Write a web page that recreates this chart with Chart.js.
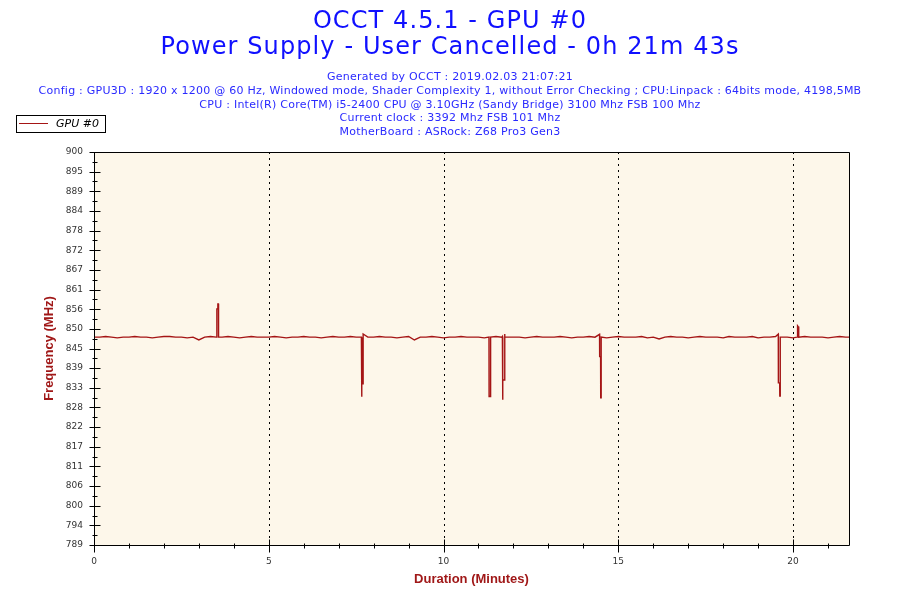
<!DOCTYPE html>
<html>
<head>
<meta charset="utf-8">
<script src="https://cdn.jsdelivr.net/npm/chart.js@4.4.1/dist/chart.umd.min.js"></script>
<style>
  html, body { margin: 0; padding: 0; background: #ffffff; }
  #wrap { position: relative; width: 900px; height: 600px; overflow: hidden; }
  #c { position: absolute; left: 0; top: 0; }
  .t1 { position: absolute; left: 0; width: 900px; text-align: center; font-family: "DejaVu Sans", sans-serif; font-size: 24px; letter-spacing: 1.1px; line-height: 27px; color: #1010ff; white-space: nowrap; }
  #sub { position: absolute; left: 0; top: 70px; width: 900px; text-align: center; font-family: "DejaVu Sans", sans-serif; font-size: 11px; letter-spacing: 0.25px; line-height: 13.8px; color: #2a2aff; white-space: nowrap; }
  #legend { position: absolute; left: 16px; top: 115px; width: 90px; height: 18px; box-sizing: border-box; border: 1px solid #000; background: #fff; }
  #legline { position: absolute; left: 2px; top: 7px; width: 29px; height: 1px; background: #a51515; }
  #legtext { position: absolute; left: 39px; top: 0px; font-family: "DejaVu Sans", sans-serif; font-style: italic; font-size: 11px; line-height: 16px; color: #000; }
</style>
</head>
<body>
<div id="wrap">
  <canvas id="c" width="900" height="600"></canvas>
  <div class="t1" style="top:7px">OCCT 4.5.1 - GPU #0</div>
  <div class="t1" style="top:33px">Power Supply - User Cancelled - 0h 21m 43s</div>
  <div id="sub">Generated by OCCT : 2019.02.03 21:07:21<br>Config : GPU3D : 1920 x 1200 @ 60 Hz, Windowed mode, Shader Complexity 1, without Error Checking ; CPU:Linpack : 64bits mode, 4198,5MB<br>CPU : Intel(R) Core(TM) i5-2400 CPU @ 3.10GHz (Sandy Bridge) 3100 Mhz FSB 100 Mhz<br>Current clock : 3392 Mhz FSB 101 Mhz<br>MotherBoard : ASRock: Z68 Pro3 Gen3</div>
  <div id="legend"><div id="legline"></div><div id="legtext">GPU #0</div></div>
</div>
<script>
// ---- data ----
const seriesName = "GPU #0";
// baseline frequency (MHz), one reading every 10 s starting at 0 s
const baseStepSec = 10;
const baseMHz = [
847.7,847.7,847.9,847.7,847.5,847.7,847.7,847.9,847.7,847.7,
847.5,847.7,847.9,847.9,847.7,847.7,847.5,847.7,846.9,847.7,
847.9,847.7,847.7,847.9,847.7,847.5,847.7,847.9,847.7,847.7,
847.7,847.9,847.7,847.5,847.7,847.7,847.9,847.7,847.7,847.5,
847.7,847.9,847.7,847.7,847.9,847.7,847.5,847.7,847.7,847.9,
847.7,847.7,847.5,847.7,847.9,846.9,847.7,847.7,847.9,847.7,
847.5,847.7,847.7,847.9,847.7,847.7,847.7,847.5,847.7,847.9,
847.7,847.7,847.7,847.7,847.5,847.7,847.9,847.7,847.7,847.7,
847.9,847.7,847.5,847.7,847.7,847.9,847.7,847.7,847.5,847.7,
847.9,847.7,847.7,847.7,847.9,847.5,847.7,847.2,847.7,847.9,
847.7,847.7,847.5,847.7,847.9,847.7,847.7,847.7,847.5,847.9,
847.7,847.7,847.7,847.9,847.5,847.7,847.7,847.9,847.7,847.7,
847.5,847.7,847.9,847.7,847.7,847.7,847.5,847.7,847.9,847.7,
847.7
];
// spikes: time (s) and frequency (MHz)
const spikeSec = [
  [210.8, 211.0, 212.4, 212.6, 213.6, 213.8],
  [459.0, 459.2, 459.8, 460.0, 461.8, 462.0],
  [678.0, 678.2, 679.4, 679.6, 680.6, 680.8],
  [701.0, 701.2, 701.8, 702.0, 704.6, 704.8, 705.4],
  [867.8, 868.0, 869.6, 869.8, 870.4, 870.6],
  [1174.6, 1174.8, 1177.0, 1177.2, 1177.8, 1178.0],
  [1206.8, 1207.0, 1208.4, 1208.6, 1209.6, 1209.8]
];
const spikeMHz = [
  [847.7, 855.7, 855.7, 857.1, 857.1, 847.7],
  [847.7, 830.9, 830.9, 834.5, 834.5, 848.6],
  [847.7, 830.9, 830.9, 831.0, 830.9, 847.7],
  [847.9, 830.0, 830.0, 835.6, 835.6, 848.6, 847.7],
  [848.5, 842.2, 842.2, 830.6, 830.6, 847.7],
  [848.6, 834.8, 834.8, 831.1, 831.1, 847.7],
  [847.7, 850.9, 850.9, 850.7, 850.7, 847.7]
];
const yTickLabels = ["789","794","800","806","811","817","822","828","833","839","845","850","856","861","867","872","878","884","889","895","900"];
const xMajorTicks = [0, 5, 10, 15, 20];
const xMinorTicks = [1,2,3,4,6,7,8,9,11,12,13,14,16,17,18,19,21];
const yMin = 789, yMax = 900;
const xMaxMin = 21.6;

// ---- build points (x in minutes) ----
const pts = [];
baseMHz.forEach((v, i) => {
  const s = i * baseStepSec;
  const inSpike = spikeSec.some(g => s >= g[0] - 0.5 && s <= g[g.length - 1] + 0.5);
  if (!inSpike) pts.push({ x: s / 60, y: v });
});
spikeSec.forEach((g, gi) => g.forEach((s, k) => pts.push({ x: s / 60, y: spikeMHz[gi][k] })));
pts.sort((a, b) => a.x - b.x);

const lineColor = '#a51515';
const titleColor = '#a01818';

const framePlugin = {
  id: 'frame',
  beforeDatasetsDraw(chart) {
    const { ctx, chartArea: a, scales } = chart;
    ctx.save();
    ctx.fillStyle = '#fdf7ea';
    ctx.fillRect(a.left, a.top, a.right - a.left, a.bottom - a.top);
    // dotted vertical grid
    ctx.strokeStyle = '#000';
    ctx.lineWidth = 1;
    ctx.setLineDash([2, 4]);
    xMajorTicks.forEach(v => {
      if (v === 0) return;
      const x = Math.round(scales.x.getPixelForValue(v)) + 0.5;
      ctx.beginPath(); ctx.moveTo(x, a.top); ctx.lineTo(x, a.bottom); ctx.stroke();
    });
    ctx.restore();
  },
  afterDraw(chart) {
    const { ctx, chartArea: a, scales } = chart;
    ctx.save();
    ctx.strokeStyle = '#000';
    ctx.lineWidth = 1;
    ctx.setLineDash([]);
    const L = Math.round(a.left) + 0.5, R = Math.round(a.right) + 0.5;
    const T = Math.round(a.top) + 0.5, B = Math.round(a.bottom) + 0.5;
    ctx.beginPath();
    ctx.rect(L, T, R - L, B - T);
    ctx.stroke();
    // y ticks
    const n = yTickLabels.length;
    for (let i = 0; i < n; i++) {
      const v = yMin + i * (yMax - yMin) / (n - 1);
      const y = Math.round(scales.y.getPixelForValue(v)) + 0.5;
      ctx.beginPath(); ctx.moveTo(L - 5, y); ctx.lineTo(L + 6, y); ctx.stroke();
      if (i < n - 1) {
        const vm = v + (yMax - yMin) / (n - 1) / 2;
        const ym = Math.round(scales.y.getPixelForValue(vm)) + 0.5;
        ctx.beginPath(); ctx.moveTo(L - 2, ym); ctx.lineTo(L + 3, ym); ctx.stroke();
      }
    }
    // x ticks
    xMajorTicks.forEach(v => {
      const x = Math.round(scales.x.getPixelForValue(v)) + 0.5;
      ctx.beginPath(); ctx.moveTo(x, B - 6); ctx.lineTo(x, B + 7); ctx.stroke();
    });
    xMinorTicks.forEach(v => {
      const x = Math.round(scales.x.getPixelForValue(v)) + 0.5;
      ctx.beginPath(); ctx.moveTo(x, B - 2); ctx.lineTo(x, B + 3); ctx.stroke();
    });
    ctx.restore();
  }
};

new Chart(document.getElementById('c'), {
  type: 'line',
  data: {
    datasets: [{
      label: seriesName,
      data: pts,
      borderColor: lineColor,
      borderWidth: 1.4,
      pointRadius: 0,
      tension: 0,
      fill: false
    }]
  },
  options: {
    responsive: false,
    animation: false,
    events: [],
    layout: { padding: { top: 152, right: 51, left: 0, bottom: 0 } },
    plugins: { legend: { display: false }, title: { display: false }, tooltip: { enabled: false } },
    scales: {
      x: {
        type: 'linear',
        min: 0,
        max: xMaxMin,
        afterFit(s) { s.height = 55; },
        afterBuildTicks(s) { s.ticks = xMajorTicks.map(v => ({ value: v })); },
        grid: { display: false, drawTicks: false },
        border: { display: false },
        ticks: { padding: 11, color: '#333', font: { family: 'DejaVu Sans', size: 9 }, maxRotation: 0, autoSkip: false, callback: v => String(v) },
        title: { display: true, text: 'Duration (Minutes)', color: titleColor, font: { family: 'Liberation Sans', size: 13, weight: 'bold' }, padding: { top: 0, bottom: 13 } }
      },
      y: {
        type: 'linear',
        min: yMin,
        max: yMax,
        afterFit(s) { s.width = 94; },
        afterBuildTicks(s) {
          const n = yTickLabels.length;
          s.ticks = yTickLabels.map((l, i) => ({ value: yMin + i * (yMax - yMin) / (n - 1) }));
        },
        grid: { display: false, drawTicks: false },
        border: { display: false },
        ticks: { padding: 11, color: '#333', font: { family: 'DejaVu Sans', size: 9 }, autoSkip: false, callback: (v, i) => yTickLabels[i] },
        title: { display: true, text: 'Frequency (MHz)', color: titleColor, font: { family: 'Liberation Sans', size: 13, weight: 'bold' }, padding: { top: 42, bottom: 0 } }
      }
    }
  },
  plugins: [framePlugin]
});
</script>
</body>
</html>
